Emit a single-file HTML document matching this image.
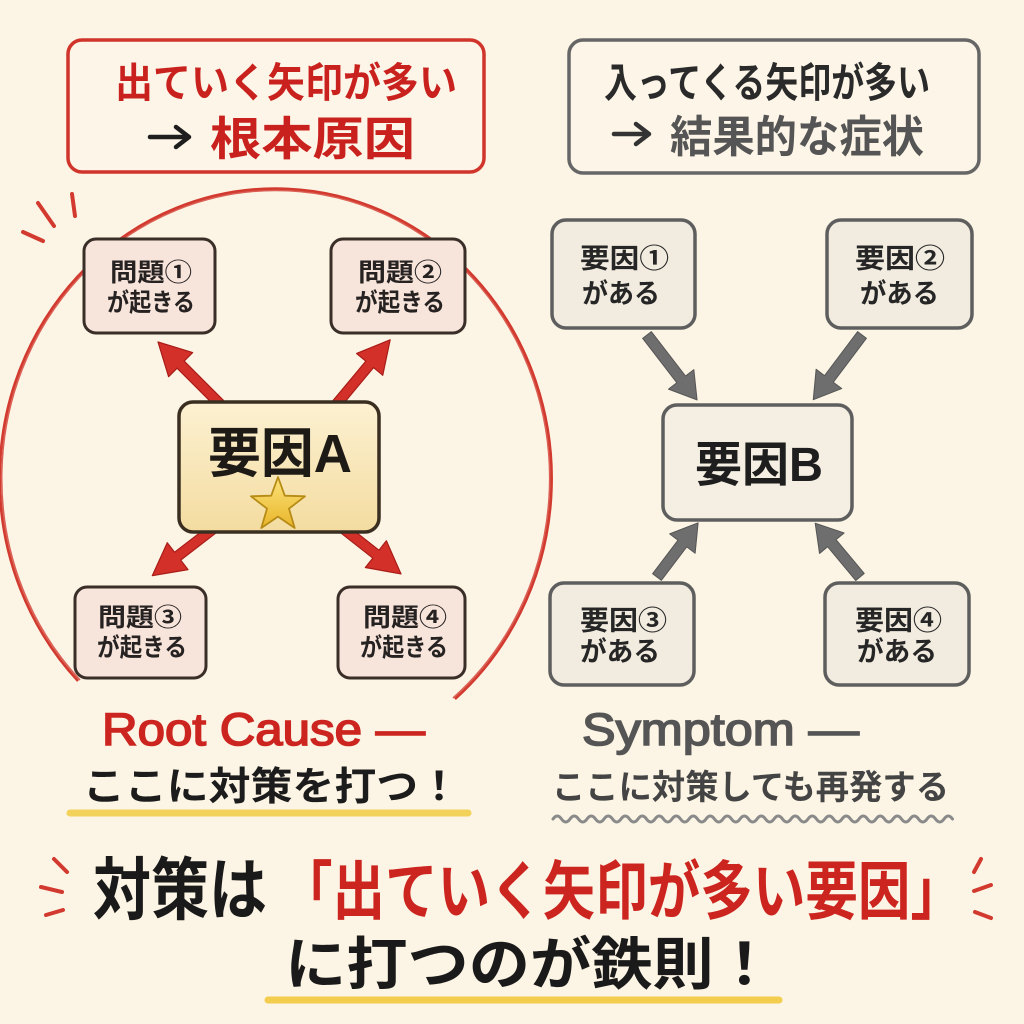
<!DOCTYPE html>
<html>
<head>
<meta charset="utf-8">
<style>
  html,body{margin:0;padding:0;background:#fcf5e5;}
  svg{display:block;}
  .jp{font-family:"Liberation Sans","Noto Sans CJK JP",sans-serif;font-weight:700;}
</style>
</head>
<body>
<svg width="1024" height="1024" viewBox="0 0 1024 1024" xmlns="http://www.w3.org/2000/svg">
  <defs>
    <linearGradient id="ya" x1="0" y1="0" x2="0" y2="1">
      <stop offset="0" stop-color="#fcf1d2"/>
      <stop offset="1" stop-color="#f4dca0"/>
    </linearGradient>
    <linearGradient id="star" x1="0" y1="0" x2="0" y2="1">
      <stop offset="0" stop-color="#fbe37a"/>
      <stop offset="1" stop-color="#e9b52a"/>
    </linearGradient>
  </defs>
  <rect x="0" y="0" width="1024" height="1024" fill="#fcf5e5"/>

  <!-- Top boxes -->
  <rect x="68" y="40" width="416" height="132" rx="14" fill="#fdf6e8" stroke="#d0342b" stroke-width="3.5"/>
  <text class="jp" x="115" y="97" font-size="41" fill="#c9221e" textLength="342" lengthAdjust="spacingAndGlyphs">出ていく矢印が多い</text>
  <path d="M150 137 L186 137" stroke="#1e1e1e" stroke-width="4.5" stroke-linecap="round"/>
  <path d="M176 127 L189 137 L176 147" fill="none" stroke="#1e1e1e" stroke-width="4.5" stroke-linecap="round" stroke-linejoin="round"/>
  <text class="jp" x="210" y="155" font-size="46" fill="#c9221e" textLength="205" lengthAdjust="spacingAndGlyphs">根本原因</text>

  <rect x="569" y="40" width="410" height="133" rx="14" fill="#fdf6e8" stroke="#666" stroke-width="3.5"/>
  <text class="jp" x="604" y="97" font-size="41" fill="#2a2a2a" textLength="326" lengthAdjust="spacingAndGlyphs">入ってくる矢印が多い</text>
  <path d="M614 134 L646 134" stroke="#333" stroke-width="4.5" stroke-linecap="round"/>
  <path d="M636 124 L649 134 L636 144" fill="none" stroke="#333" stroke-width="4.5" stroke-linecap="round" stroke-linejoin="round"/>
  <text class="jp" x="670" y="152" font-size="44" fill="#555" textLength="254" lengthAdjust="spacingAndGlyphs">結果的な症状</text>

  <!-- Big red circle (double stroke, close together) -->
  <path d="M78 681 A276 290 0 1 1 455 699" fill="none" stroke="#d23a2f" stroke-width="2.6"/>
  <path d="M80 680 A274 288 0 1 1 453 698" fill="none" stroke="#d23a2f" stroke-width="1.6" opacity="0.8"/>

  <!-- burst marks top-left -->
  <g stroke="#d23a2f" stroke-width="4" stroke-linecap="round">
    <line x1="72" y1="194" x2="75" y2="216"/>
    <line x1="38" y1="203" x2="54" y2="226"/>
    <line x1="23" y1="232" x2="43" y2="241"/>
  </g>

  <!-- Red arrows -->
  <g fill="#d3302a" stroke="#a91c17" stroke-width="1.2" stroke-linejoin="round">
    <g transform="translate(228,412) rotate(-135)">
      <path d="M0,-5 L67,-5 L67,-17 L99,0 L67,17 L67,5 L0,5 Z"/>
    </g>
    <g transform="translate(330,412) rotate(-50.2)">
      <path d="M0,-5 L62,-5 L62,-17 L94,0 L62,17 L62,5 L0,5 Z"/>
    </g>
    <g transform="translate(222,522) rotate(142.4)">
      <path d="M0,-5 L56,-5 L56,-17 L88,0 L56,17 L56,5 L0,5 Z"/>
    </g>
    <g transform="translate(335,522) rotate(38.2)">
      <path d="M0,-5 L52,-5 L52,-17 L84,0 L52,17 L52,5 L0,5 Z"/>
    </g>
  </g>

  <!-- Problem boxes -->
  <g fill="#f7e4da" stroke="#3a2e28" stroke-width="3">
    <rect x="84" y="239" width="131" height="94" rx="12"/>
    <rect x="331" y="239" width="134" height="94" rx="12"/>
    <rect x="75" y="587" width="131" height="91" rx="12"/>
    <rect x="338" y="587" width="127" height="91" rx="12"/>
  </g>
  <g class="jp" fill="#262222" font-size="25">
    <text x="110" y="281" textLength="82" lengthAdjust="spacingAndGlyphs">問題①</text>
    <text x="107" y="311" textLength="88" lengthAdjust="spacingAndGlyphs">が起きる</text>
    <text x="358" y="281" textLength="84" lengthAdjust="spacingAndGlyphs">問題②</text>
    <text x="355" y="311" textLength="90" lengthAdjust="spacingAndGlyphs">が起きる</text>
    <text x="98" y="626" textLength="84" lengthAdjust="spacingAndGlyphs">問題③</text>
    <text x="97" y="656" textLength="90" lengthAdjust="spacingAndGlyphs">が起きる</text>
    <text x="363" y="626" textLength="84" lengthAdjust="spacingAndGlyphs">問題④</text>
    <text x="360" y="656" textLength="88" lengthAdjust="spacingAndGlyphs">が起きる</text>
  </g>

  <!-- 要因A -->
  <rect x="179" y="402" width="200" height="130" rx="14" fill="url(#ya)" stroke="#3a2e20" stroke-width="3.5"/>
  <text class="jp" x="208" y="472" font-size="54" fill="#1e1a16" textLength="144" lengthAdjust="spacingAndGlyphs">要因A</text>
  <path d="M278 477 L284.8 495.7 L305 496.3 L289 508.6 L294.7 528 L278 516.6 L261.3 528 L267 508.6 L251 496.3 L271.2 495.7 Z" fill="url(#star)" stroke="#b68b16" stroke-width="1.8" stroke-linejoin="round"/>

  <!-- Gray arrows -->
  <g fill="#6e6e6e" stroke="#555" stroke-width="1" stroke-linejoin="round">
    <g transform="translate(647,335) rotate(52.4)">
      <path d="M0,-5.5 L56,-5.5 L56,-16 L82,0 L56,16 L56,5.5 L0,5.5 Z"/>
    </g>
    <g transform="translate(862,335) rotate(127)">
      <path d="M0,-5.5 L55,-5.5 L55,-16 L81,0 L55,16 L55,5.5 L0,5.5 Z"/>
    </g>
    <g transform="translate(657,577) rotate(-52.8)">
      <path d="M0,-5.5 L42,-5.5 L42,-16 L68,0 L42,16 L42,5.5 L0,5.5 Z"/>
    </g>
    <g transform="translate(860,577) rotate(-129.8)">
      <path d="M0,-5.5 L44,-5.5 L44,-16 L70,0 L44,16 L44,5.5 L0,5.5 Z"/>
    </g>
  </g>

  <!-- Gray boxes -->
  <g fill="#f2ece0" stroke="#5e5e5e" stroke-width="3.5">
    <rect x="552" y="220" width="143" height="108" rx="14"/>
    <rect x="827" y="220" width="145" height="108" rx="14"/>
    <rect x="550" y="583" width="144" height="102" rx="14"/>
    <rect x="825" y="583" width="144" height="102" rx="14"/>
    <rect x="663" y="405" width="189" height="115" rx="14" fill="#f4eee3"/>
  </g>
  <g class="jp" fill="#262626" font-size="27">
    <text x="580" y="268" textLength="89" lengthAdjust="spacingAndGlyphs">要因①</text>
    <text x="582" y="303" textLength="78" lengthAdjust="spacingAndGlyphs">がある</text>
    <text x="855" y="268" textLength="90" lengthAdjust="spacingAndGlyphs">要因②</text>
    <text x="860" y="303" textLength="79" lengthAdjust="spacingAndGlyphs">がある</text>
    <text x="580" y="630" textLength="87" lengthAdjust="spacingAndGlyphs">要因③</text>
    <text x="580" y="661" textLength="80" lengthAdjust="spacingAndGlyphs">がある</text>
    <text x="855" y="630" textLength="87" lengthAdjust="spacingAndGlyphs">要因④</text>
    <text x="857" y="661" textLength="80" lengthAdjust="spacingAndGlyphs">がある</text>
  </g>
  <text class="jp" x="695" y="481" font-size="48" fill="#1e1e1e" textLength="128" lengthAdjust="spacingAndGlyphs">要因B</text>

  <!-- Bottom labels left -->
  <text x="102" y="745" font-family="'Liberation Sans','Noto Sans CJK JP',sans-serif" font-weight="400" font-size="45" fill="#cc2520" stroke="#cc2520" stroke-width="1.6" textLength="323" lengthAdjust="spacingAndGlyphs">Root Cause —</text>
  <text class="jp" x="83" y="800" font-size="39" fill="#1c1c1c" textLength="377" lengthAdjust="spacingAndGlyphs">ここに対策を打つ！</text>
  <path d="M70 813 L468 813" stroke="#f2d25a" stroke-width="7" stroke-linecap="round"/>

  <!-- Bottom labels right -->
  <text x="582" y="745" font-family="'Liberation Sans','Noto Sans CJK JP',sans-serif" font-weight="400" font-size="45" fill="#555" stroke="#555" stroke-width="1.6" textLength="277" lengthAdjust="spacingAndGlyphs">Symptom —</text>
  <text class="jp" x="552" y="799" font-size="34" fill="#444" textLength="397" lengthAdjust="spacingAndGlyphs">ここに対策しても再発する</text>
  <path d="M553 819 q4.25 -6 8.5 0 t8.5 0 t8.5 0 t8.5 0 t8.5 0 t8.5 0 t8.5 0 t8.5 0 t8.5 0 t8.5 0 t8.5 0 t8.5 0 t8.5 0 t8.5 0 t8.5 0 t8.5 0 t8.5 0 t8.5 0 t8.5 0 t8.5 0 t8.5 0 t8.5 0 t8.5 0 t8.5 0 t8.5 0 t8.5 0 t8.5 0 t8.5 0 t8.5 0 t8.5 0 t8.5 0 t8.5 0 t8.5 0 t8.5 0 t8.5 0 t8.5 0 t8.5 0 t8.5 0 t8.5 0 t8.5 0 t8.5 0 t8.5 0 t8.5 0 t8.5 0 t8.5 0 t8.5 0 t8.5 0" fill="none" stroke="#8a8a8a" stroke-width="3" stroke-linecap="round"/>

  <!-- Bottom main message -->
  <g stroke="#d23a2f" stroke-width="4" stroke-linecap="round">
    <line x1="54" y1="859" x2="67" y2="872"/>
    <line x1="41" y1="887" x2="62" y2="892"/>
    <line x1="46" y1="915" x2="63" y2="910"/>
    <line x1="981" y1="859" x2="974" y2="872"/>
    <line x1="991" y1="885" x2="974" y2="891"/>
    <line x1="991" y1="918" x2="975" y2="912"/>
  </g>
  <text class="jp" x="93" y="914" font-size="68" fill="#1a1a1a" textLength="174" lengthAdjust="spacingAndGlyphs">対策は</text>
  <text class="jp" x="280" y="914" font-size="64" fill="#cc2520" textLength="683" lengthAdjust="spacingAndGlyphs">「出ていく矢印が多い要因」</text>
  <text class="jp" x="285" y="984" font-size="57" fill="#1a1a1a" textLength="490" lengthAdjust="spacingAndGlyphs">に打つのが鉄則！</text>
  <path d="M268 1000 L779 1000" stroke="#f2cd4e" stroke-width="7" stroke-linecap="round"/>
</svg>
</body>
</html>
